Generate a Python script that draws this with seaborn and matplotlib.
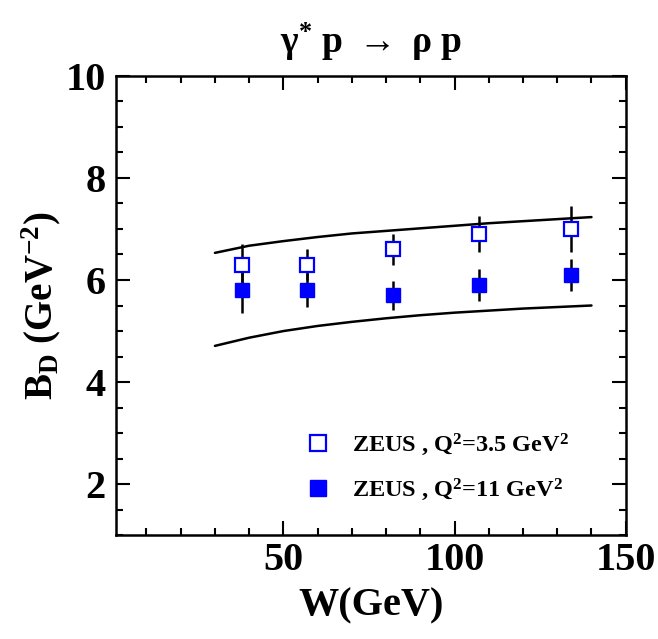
import numpy as np
import pandas as pd
import matplotlib
matplotlib.use("Agg")
import matplotlib.pyplot as plt
import seaborn as sns
from matplotlib.ticker import MultipleLocator

# data
W_pts = [38, 57, 82, 107, 134]
B_low_q = [6.3, 6.3, 6.6, 6.9, 7.0]
err_low_q = [0.4, 0.3, 0.3, 0.35, 0.45]
B_high_q = [5.8, 5.8, 5.7, 5.9, 6.1]
err_high_q = [0.45, 0.33, 0.28, 0.31, 0.31]

W_curve = [30, 40, 50, 60, 70, 80, 90, 100, 110, 120, 130, 140]
B_upper = [6.53, 6.67, 6.76, 6.84, 6.91, 6.96, 7.01, 7.06, 7.11, 7.15, 7.19, 7.23]
B_lower = [4.71, 4.87, 5.00, 5.10, 5.18, 5.25, 5.31, 5.36, 5.40, 5.44, 5.47, 5.50]

label_a = "ZEUS , Q$^{\\mathrm{2}}$=3.5 GeV$^{\\mathrm{2}}$"
label_b = "ZEUS , Q$^{\\mathrm{2}}$=11 GeV$^{\\mathrm{2}}$"

sns.set_style("ticks")
plt.rcParams['font.family'] = ['Liberation Serif', 'DejaVu Serif']
plt.rcParams['font.weight'] = 'bold'
plt.rcParams['mathtext.fontset'] = 'custom'
plt.rcParams['mathtext.rm'] = 'Liberation Serif:bold'
plt.rcParams['mathtext.it'] = 'Liberation Serif:bold'
plt.rcParams['mathtext.bf'] = 'Liberation Serif:bold'
for k in ['text.color', 'axes.labelcolor', 'xtick.color', 'ytick.color', 'axes.edgecolor']:
    plt.rcParams[k] = 'black'

fig = plt.figure(figsize=(6.58, 6.39), dpi=100)
ax = fig.add_axes([0.1758, 0.162, 0.7751, 0.7198])

df_curve = pd.DataFrame({"W": W_curve * 2,
                         "B": B_upper + B_lower,
                         "band": ["upper"] * len(W_curve) + ["lower"] * len(W_curve)})
sns.lineplot(data=df_curve, x="W", y="B", units="band", estimator=None,
             color="black", lw=1.8, ax=ax, legend=False)

ax.errorbar(W_pts, B_low_q, yerr=err_low_q, fmt="none", ecolor="black", elinewidth=1.8, zorder=2)
ax.errorbar(W_pts, B_high_q, yerr=err_high_q, fmt="none", ecolor="black", elinewidth=1.8, zorder=2)

ax.plot(W_pts, B_low_q, ls="none", marker="s", ms=9.5, mfc="white", mec="#0000ff",
        mew=1.6, zorder=3, label=label_a)
ax.plot(W_pts, B_high_q, ls="none", marker="s", ms=9.5, mfc="#0000ff", mec="#0000ff",
        mew=1.0, zorder=3, label=label_b)

ax.set_xlim(1, 150)
ax.set_ylim(1, 10)
ax.xaxis.set_major_locator(MultipleLocator(50))
ax.xaxis.set_minor_locator(MultipleLocator(10))
ax.yaxis.set_major_locator(MultipleLocator(2))
ax.yaxis.set_minor_locator(MultipleLocator(0.5))
ax.set_xticks([50, 100, 150])
ax.tick_params(which="both", direction="in", top=True, right=True, width=1.5,
               labelsize=29, colors="black")
ax.tick_params(axis="x", pad=5)
ax.tick_params(axis="y", pad=7)
ax.tick_params(which="major", length=10)
ax.tick_params(which="minor", length=5)
for lab in ax.get_xticklabels() + ax.get_yticklabels():
    lab.set_fontweight("bold")
for s in ax.spines.values():
    s.set_linewidth(1.8)
    s.set_color("black")

ax.set_xlabel("W(GeV)", fontsize=29, fontweight="bold", labelpad=6)
ax.set_ylabel("B$_{\\mathrm{D}}$ (GeV$^{\\mathrm{-2}}$)", fontsize=28, fontweight="bold", labelpad=2)
ax.set_title("γ$^{\\mathrm{*}}$ p $\\rightarrow$ ρ p", fontsize=27, fontweight="bold", pad=16)

ax.legend(loc="lower left", bbox_to_anchor=(0.33, 0.024), frameon=False,
          prop={"size": 17.5, "weight": "bold"}, handletextpad=0.9, labelspacing=0.75,
          handlelength=1.0, markerscale=1.25)

fig.savefig("out.png", dpi=100)
